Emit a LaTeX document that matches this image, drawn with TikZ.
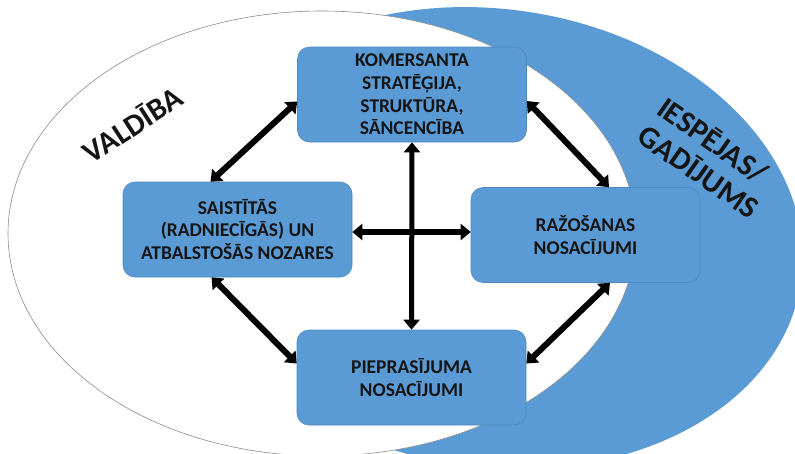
\documentclass[tikz,border=0pt]{standalone}
\usepackage{fontspec}
\setmainfont{Carlito}
\usetikzlibrary{arrows.meta}
\definecolor{officeblue}{HTML}{5B9BD5}
\definecolor{boxline}{HTML}{4F88BD}
\definecolor{rimgray}{HTML}{8C8C8C}
\definecolor{inktext}{HTML}{151515}

\begin{document}
\begin{tikzpicture}[x=1pt, y=-1pt,
    factor/.style={rectangle, rounded corners=12pt, draw=boxline, line width=0.6pt, fill=officeblue,
        minimum width=229pt, minimum height=95pt, inner sep=0pt, align=center,
        font=\fontsize{19.5}{22.7}\selectfont\bfseries, text=inktext},
    sphere/.style={font=\fontsize{31}{34}\selectfont\bfseries, text=inktext},
    link/.style={{Triangle[length=10pt,width=16pt]}-{Triangle[length=10pt,width=16pt]}, line width=6pt, black}
]
\useasboundingbox (0,0) rectangle (795,453);
\clip (0,0) rectangle (795,453);

% Background ellipses
\fill[officeblue, rotate around={-8:(492,238)}] (492,238) ellipse [x radius=312, y radius=229];
\filldraw[fill=white, draw=rimgray, line width=0.6pt] (322,233.5) ellipse [x radius=314, y radius=222.5];

% Outer labels
\node[sphere, rotate=33] (gov) at (132,124) {VALDĪBA};
\node[sphere, rotate=-35, align=left] (chance) at (709,157) {IESPĒJAS/\\GADĪJUMS};

% Determinants
\node[factor] (strat) at (412,94.5) {KOMERSANTA\\STRATĒĢIJA,\\STRUKTŪRA,\\SĀNCENCĪBA};
\node[factor] (rel) at (237.5,229.5) {SAISTĪTĀS\\(RADNIECĪGĀS) UN\\ATBALSTOŠĀS NOZARES};
\node[factor] (prod) at (585.5,235) {RAŽOŠANAS\\NOSACĪJUMI};
\node[factor] (dem) at (411.5,377.5) {PIEPRASĪJUMA\\NOSACĪJUMI};

% Links between determinants
\draw[link] ([yshift=-7pt]strat.west) -- ([xshift=-27pt]rel.north);
\draw[link] ([yshift=-6.5pt]strat.east) -- ([xshift=23.5pt]prod.north);
\draw[link] ([xshift=-26pt]rel.south) -- ([yshift=14pt]dem.west);
\draw[link] ([xshift=24.5pt]prod.south) -- ([yshift=14pt]dem.east);
\draw[link, line width=5pt] (strat.south) -- (dem.north);
\draw[link] ([yshift=-2.5pt]rel.east) -- ([yshift=3pt]prod.west);

\end{tikzpicture}
\end{document}
